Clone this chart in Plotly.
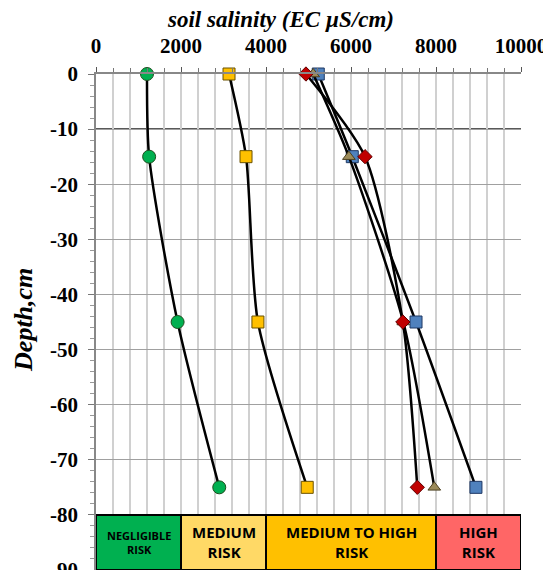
import plotly.graph_objects as go

depth = [0, -15, -45, -75]
s_green = [1200, 1250, 1920, 2900]
s_yellow = [3130, 3530, 3810, 4970]
s_red = [4940, 6330, 7220, 7560]
s_tan = [5110, 5950, 7230, 7960]
s_blue = [5230, 6030, 7530, 8940]

x_tick_vals = [0, 2000, 4000, 6000, 8000, 10000]
x_tick_text = ["0", "2000", "4000", "6000", "8000", "10000"]
y_tick_vals = [0, -10, -20, -30, -40, -50, -60, -70, -80, -90]
y_tick_text = ["0", "-10", "-20", "-30", "-40", "-50", "-60", "-70", "-80", "-90"]

risk_labels = ["NEGLIGIBLE<br>RISK", "MEDIUM<br>RISK", "MEDIUM TO HIGH<br>RISK", "HIGH<br>RISK"]
risk_x0 = [0, 2000, 4000, 8000]
risk_x1 = [2000, 4000, 8000, 10000]
risk_colors = ["#00B050", "#FFD966", "#FFC000", "#FF6666"]
risk_font = [11, 15, 15, 15]
risk_top = -80
risk_bottom = -90

series = [
    (s_green, "circle", 13, "#00B050", "#1e4d1e"),
    (s_yellow, "square", 12, "#FFC000", "#6b5200"),
    (s_blue, "square", 12, "#4F81BD", "#1F3864"),
    (s_tan, "triangle-up", 11, "#9C8B5A", "#4d4020"),
    (s_red, "diamond", 11, "#C00000", "#600000"),
]

fig = go.Figure()
for vals, sym, sz, col, lcol in series:
    fig.add_trace(go.Scatter(
        x=vals, y=depth, mode="lines+markers",
        line=dict(color="black", width=2.5, shape="spline", smoothing=0.7),
        marker=dict(symbol=sym, size=sz, color=col, line=dict(color=lcol, width=1)),
        showlegend=False, cliponaxis=False))

shapes = []
for v in [4000, 8000]:
    shapes.append(dict(type="line", xref="x", yref="y", x0=v, x1=v, y0=0, y1=-80,
                       line=dict(color="#555555", width=1.5), layer="below"))
shapes.append(dict(type="line", xref="x", yref="y", x0=0, x1=10000, y0=-10, y1=-10,
                   line=dict(color="#222222", width=1.5), layer="below"))
annotations = []
for lab, a, b, c, fs in zip(risk_labels, risk_x0, risk_x1, risk_colors, risk_font):
    shapes.append(dict(type="rect", xref="x", yref="y", x0=a, x1=b, y0=risk_top, y1=risk_bottom,
                       fillcolor=c, line=dict(color="black", width=2), layer="above"))
    annotations.append(dict(x=(a + b) / 2, y=(risk_top + risk_bottom) / 2, xref="x", yref="y",
                            text=lab, showarrow=False, xanchor="center", yanchor="middle",
                            font=dict(family="Open Sans", size=fs, color="black", weight="bold")))

annotations.append(dict(x=0.435, y=1.11, xref="paper", yref="paper", text="<b><i>soil salinity (EC µS/cm)</i></b>",
                        showarrow=False, xanchor="center", yanchor="middle",
                        font=dict(family="Liberation Serif", size=23, color="black")))
annotations.append(dict(x=-0.172, y=0.504, xref="paper", yref="paper", text="<b><i>Depth,cm</i></b>",
                        textangle=-90, showarrow=False, xanchor="center", yanchor="middle",
                        font=dict(family="Liberation Serif", size=26, color="black")))

fig.update_layout(
    width=543, height=562,
    margin=dict(l=88, r=30, t=66, b=0),
    paper_bgcolor="white", plot_bgcolor="white",
    shapes=shapes, annotations=annotations,
    xaxis=dict(range=[0, 10000], side="top", tickvals=x_tick_vals, ticktext=x_tick_text,
               showgrid=False, zeroline=False, automargin=False,
               showline=True, linecolor="#888888", linewidth=1.5,
               ticks="outside", ticklen=5, tickcolor="#555555", ticklabelstandoff=6,
               tickfont=dict(family="Liberation Serif", size=21, color="black", weight="bold"),
               minor=dict(dtick=400, showgrid=True, gridcolor="#D0D0D0", gridwidth=1.5,
                          ticks="outside", ticklen=4, tickcolor="#777777")),
    yaxis=dict(range=[-90, 0], tickvals=y_tick_vals, ticktext=y_tick_text,
               showgrid=True, gridcolor="#A0A0A0", gridwidth=1.2, automargin=False,
               zeroline=False, showline=True, linecolor="#888888", linewidth=1.5,
               ticks="outside", ticklen=6, tickcolor="#777777", ticklabelstandoff=6,
               ticklabeloverflow="allow",
               tickfont=dict(family="Liberation Serif", size=21, color="black", weight="bold"),
               minor=dict(dtick=2, ticks="outside", ticklen=4, tickcolor="#999999", showgrid=False)),
)
fig.write_html("out.html")
